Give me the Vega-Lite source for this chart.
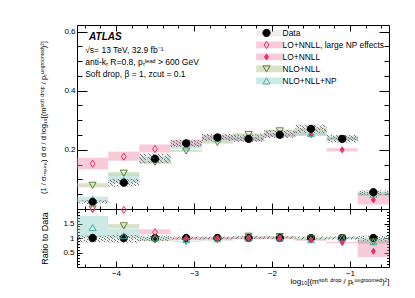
{
  "$schema": "https://vega.github.io/schema/vega-lite/v6.json",
  "padding": {"left": 38, "top": 24, "right": 5, "bottom": 5},
  "spacing": 0,
  "bounds": "flush",
  "config": {
    "view": {"stroke": "#000", "strokeWidth": 1},
    "font": "Liberation Sans",
    "axis": {"domain": false, "grid": false, "zindex": 1, "format": "~g", "labelFont": "Liberation Sans", "labelFontSize": 8, "labelColor": "#000", "tickColor": "#000", "tickWidth": 1, "titleFont": "Liberation Sans", "titleFontSize": 7.5, "titleFontWeight": "normal", "titleColor": "#000"},
    "legend": {"labelFont": "Liberation Sans", "labelFontSize": 8.4, "labelColor": "#000"}
  },
  "datasets": {
    "main": [
      {"series": "LO+NNLL, large NP effects", "xlo": -4.5, "xhi": -4.1, "xc": -4.3, "y": 0.153, "ylo": 0.134, "yhi": 0.173},
      {"series": "LO+NNLL, large NP effects", "xlo": -4.1, "xhi": -3.7, "xc": -3.9, "y": 0.177, "ylo": 0.163, "yhi": 0.194},
      {"series": "LO+NNLL, large NP effects", "xlo": -3.7, "xhi": -3.3, "xc": -3.5, "y": 0.203, "ylo": 0.191, "yhi": 0.218},
      {"series": "LO+NNLL", "xlo": -3.3, "xhi": -2.9, "xc": -3.1, "y": 0.221, "ylo": 0.213, "yhi": 0.233},
      {"series": "LO+NNLL", "xlo": -2.9, "xhi": -2.5, "xc": -2.7, "y": 0.240, "ylo": 0.232, "yhi": 0.250},
      {"series": "LO+NNLL", "xlo": -2.5, "xhi": -2.1, "xc": -2.3, "y": 0.236, "ylo": 0.230, "yhi": 0.244},
      {"series": "LO+NNLL", "xlo": -2.1, "xhi": -1.7, "xc": -1.9, "y": 0.249, "ylo": 0.243, "yhi": 0.256},
      {"series": "LO+NNLL", "xlo": -1.7, "xhi": -1.3, "xc": -1.5, "y": 0.251, "ylo": 0.247, "yhi": 0.257},
      {"series": "LO+NNLL", "xlo": -1.3, "xhi": -0.9, "xc": -1.1, "y": 0.200, "ylo": 0.194, "yhi": 0.205},
      {"series": "LO+NNLL", "xlo": -0.9, "xhi": -0.5, "xc": -0.7, "y": 0.031, "ylo": 0.015, "yhi": 0.049},
      {"series": "NLO+NLL", "xlo": -4.5, "xhi": -4.1, "xc": -4.3, "y": 0.080, "ylo": 0.073, "yhi": 0.087},
      {"series": "NLO+NLL", "xlo": -4.1, "xhi": -3.7, "xc": -3.9, "y": 0.121, "ylo": 0.113, "yhi": 0.125},
      {"series": "NLO+NLL", "xlo": -3.7, "xhi": -3.3, "xc": -3.5, "y": 0.158, "ylo": 0.153, "yhi": 0.163},
      {"series": "NLO+NLL", "xlo": -3.3, "xhi": -2.9, "xc": -3.1, "y": 0.196, "ylo": 0.193, "yhi": 0.200},
      {"series": "NLO+NLL", "xlo": -2.9, "xhi": -2.5, "xc": -2.7, "y": 0.225, "ylo": 0.221, "yhi": 0.230},
      {"series": "NLO+NLL", "xlo": -2.5, "xhi": -2.1, "xc": -2.3, "y": 0.252, "ylo": 0.246, "yhi": 0.256},
      {"series": "NLO+NLL", "xlo": -2.1, "xhi": -1.7, "xc": -1.9, "y": 0.264, "ylo": 0.258, "yhi": 0.268},
      {"series": "NLO+NLL", "xlo": -1.7, "xhi": -1.3, "xc": -1.5, "y": 0.268, "ylo": 0.262, "yhi": 0.273},
      {"series": "NLO+NLL", "xlo": -1.3, "xhi": -0.9, "xc": -1.1, "y": 0.237, "ylo": 0.232, "yhi": 0.243},
      {"series": "NLO+NLL", "xlo": -0.9, "xhi": -0.5, "xc": -0.7, "y": 0.049, "ylo": 0.045, "yhi": 0.053},
      {"series": "NLO+NLL+NP", "xlo": -4.5, "xhi": -4.1, "xc": -4.3, "y": 0.033, "ylo": 0.024, "yhi": 0.042},
      {"series": "NLO+NLL+NP", "xlo": -4.1, "xhi": -3.7, "xc": -3.9, "y": 0.096, "ylo": 0.089, "yhi": 0.117},
      {"series": "NLO+NLL+NP", "xlo": -3.7, "xhi": -3.3, "xc": -3.5, "y": 0.170, "ylo": 0.164, "yhi": 0.177},
      {"series": "NLO+NLL+NP", "xlo": -3.3, "xhi": -2.9, "xc": -3.1, "y": 0.210, "ylo": 0.204, "yhi": 0.217},
      {"series": "NLO+NLL+NP", "xlo": -2.9, "xhi": -2.5, "xc": -2.7, "y": 0.238, "ylo": 0.232, "yhi": 0.244},
      {"series": "NLO+NLL+NP", "xlo": -2.5, "xhi": -2.1, "xc": -2.3, "y": 0.238, "ylo": 0.231, "yhi": 0.245},
      {"series": "NLO+NLL+NP", "xlo": -2.1, "xhi": -1.7, "xc": -1.9, "y": 0.251, "ylo": 0.245, "yhi": 0.257},
      {"series": "NLO+NLL+NP", "xlo": -1.7, "xhi": -1.3, "xc": -1.5, "y": 0.255, "ylo": 0.249, "yhi": 0.262},
      {"series": "NLO+NLL+NP", "xlo": -1.3, "xhi": -0.9, "xc": -1.1, "y": 0.238, "ylo": 0.232, "yhi": 0.245},
      {"series": "NLO+NLL+NP", "xlo": -0.9, "xhi": -0.5, "xc": -0.7, "y": 0.050, "ylo": 0.046, "yhi": 0.058},
      {"series": "Data", "xlo": -4.5, "xhi": -4.1, "xc": -4.3, "y": 0.024, "ylo": 0.018, "yhi": 0.030},
      {"series": "Data", "xlo": -4.1, "xhi": -3.7, "xc": -3.9, "y": 0.089, "ylo": 0.076, "yhi": 0.102},
      {"series": "Data", "xlo": -3.7, "xhi": -3.3, "xc": -3.5, "y": 0.170, "ylo": 0.155, "yhi": 0.187},
      {"series": "Data", "xlo": -3.3, "xhi": -2.9, "xc": -3.1, "y": 0.222, "ylo": 0.210, "yhi": 0.234},
      {"series": "Data", "xlo": -2.9, "xhi": -2.5, "xc": -2.7, "y": 0.242, "ylo": 0.229, "yhi": 0.254},
      {"series": "Data", "xlo": -2.5, "xhi": -2.1, "xc": -2.3, "y": 0.237, "ylo": 0.227, "yhi": 0.252},
      {"series": "Data", "xlo": -2.1, "xhi": -1.7, "xc": -1.9, "y": 0.251, "ylo": 0.240, "yhi": 0.267},
      {"series": "Data", "xlo": -1.7, "xhi": -1.3, "xc": -1.5, "y": 0.271, "ylo": 0.257, "yhi": 0.285},
      {"series": "Data", "xlo": -1.3, "xhi": -0.9, "xc": -1.1, "y": 0.237, "ylo": 0.225, "yhi": 0.250},
      {"series": "Data", "xlo": -0.9, "xhi": -0.5, "xc": -0.7, "y": 0.057, "ylo": 0.047, "yhi": 0.063}
    ],
    "ratio": [
      {"series": "Data", "xlo": -4.5, "xhi": -4.1, "xc": -4.3, "r": 1, "rlo": 0.85, "rhi": 1.08},
      {"series": "Data", "xlo": -4.1, "xhi": -3.7, "xc": -3.9, "r": 1, "rlo": 0.84, "rhi": 1.10},
      {"series": "Data", "xlo": -3.7, "xhi": -3.3, "xc": -3.5, "r": 1, "rlo": 0.90, "rhi": 1.09},
      {"series": "Data", "xlo": -3.3, "xhi": -2.9, "xc": -3.1, "r": 1, "rlo": 0.95, "rhi": 1.05},
      {"series": "Data", "xlo": -2.9, "xhi": -2.5, "xc": -2.7, "r": 1, "rlo": 0.95, "rhi": 1.05},
      {"series": "Data", "xlo": -2.5, "xhi": -2.1, "xc": -2.3, "r": 1, "rlo": 0.96, "rhi": 1.06},
      {"series": "Data", "xlo": -2.1, "xhi": -1.7, "xc": -1.9, "r": 1, "rlo": 0.96, "rhi": 1.06},
      {"series": "Data", "xlo": -1.7, "xhi": -1.3, "xc": -1.5, "r": 1, "rlo": 0.95, "rhi": 1.05},
      {"series": "Data", "xlo": -1.3, "xhi": -0.9, "xc": -1.1, "r": 1, "rlo": 0.95, "rhi": 1.05},
      {"series": "Data", "xlo": -0.9, "xhi": -0.5, "xc": -0.7, "r": 1, "rlo": 0.90, "rhi": 1.08},
      {"series": "NLO+NLL", "xlo": -4.5, "xhi": -4.1, "xc": -4.3, "r": 3.3, "rlo": null, "rhi": null},
      {"series": "NLO+NLL", "xlo": -4.1, "xhi": -3.7, "xc": -3.9, "r": 1.42, "rlo": 1.33, "rhi": 1.48},
      {"series": "NLO+NLL", "xlo": -3.7, "xhi": -3.3, "xc": -3.5, "r": 0.93, "rlo": 0.90, "rhi": 0.96},
      {"series": "NLO+NLL", "xlo": -3.3, "xhi": -2.9, "xc": -3.1, "r": 0.88, "rlo": 0.87, "rhi": 0.90},
      {"series": "NLO+NLL", "xlo": -2.9, "xhi": -2.5, "xc": -2.7, "r": 0.93, "rlo": 0.91, "rhi": 0.95},
      {"series": "NLO+NLL", "xlo": -2.5, "xhi": -2.1, "xc": -2.3, "r": 1.06, "rlo": 1.04, "rhi": 1.08},
      {"series": "NLO+NLL", "xlo": -2.1, "xhi": -1.7, "xc": -1.9, "r": 1.05, "rlo": 1.03, "rhi": 1.07},
      {"series": "NLO+NLL", "xlo": -1.7, "xhi": -1.3, "xc": -1.5, "r": 0.99, "rlo": 0.97, "rhi": 1.01},
      {"series": "NLO+NLL", "xlo": -1.3, "xhi": -0.9, "xc": -1.1, "r": 1.0, "rlo": 0.98, "rhi": 1.02},
      {"series": "NLO+NLL", "xlo": -0.9, "xhi": -0.5, "xc": -0.7, "r": 0.86, "rlo": 0.80, "rhi": 0.92},
      {"series": "NLO+NLL+NP", "xlo": -4.5, "xhi": -4.1, "xc": -4.3, "r": 1.36, "rlo": 1.02, "rhi": 1.76},
      {"series": "NLO+NLL+NP", "xlo": -4.1, "xhi": -3.7, "xc": -3.9, "r": 1.08, "rlo": 1.0, "rhi": 1.32},
      {"series": "NLO+NLL+NP", "xlo": -3.7, "xhi": -3.3, "xc": -3.5, "r": 1.0, "rlo": 0.96, "rhi": 1.04},
      {"series": "NLO+NLL+NP", "xlo": -3.3, "xhi": -2.9, "xc": -3.1, "r": 0.95, "rlo": 0.92, "rhi": 0.98},
      {"series": "NLO+NLL+NP", "xlo": -2.9, "xhi": -2.5, "xc": -2.7, "r": 0.98, "rlo": 0.96, "rhi": 1.01},
      {"series": "NLO+NLL+NP", "xlo": -2.5, "xhi": -2.1, "xc": -2.3, "r": 1.0, "rlo": 0.97, "rhi": 1.03},
      {"series": "NLO+NLL+NP", "xlo": -2.1, "xhi": -1.7, "xc": -1.9, "r": 1.0, "rlo": 0.98, "rhi": 1.02},
      {"series": "NLO+NLL+NP", "xlo": -1.7, "xhi": -1.3, "xc": -1.5, "r": 0.94, "rlo": 0.92, "rhi": 0.97},
      {"series": "NLO+NLL+NP", "xlo": -1.3, "xhi": -0.9, "xc": -1.1, "r": 1.0, "rlo": 0.97, "rhi": 1.03},
      {"series": "NLO+NLL+NP", "xlo": -0.9, "xhi": -0.5, "xc": -0.7, "r": 0.87, "rlo": 0.82, "rhi": 1.0},
      {"series": "LO+NNLL, large NP effects", "xlo": -4.5, "xhi": -4.1, "xc": -4.3, "r": 6.4, "rlo": null, "rhi": null},
      {"series": "LO+NNLL, large NP effects", "xlo": -4.1, "xhi": -3.7, "xc": -3.9, "r": 1.97, "rlo": null, "rhi": null},
      {"series": "LO+NNLL, large NP effects", "xlo": -3.7, "xhi": -3.3, "xc": -3.5, "r": 1.20, "rlo": 1.13, "rhi": 1.30},
      {"series": "LO+NNLL", "xlo": -3.3, "xhi": -2.9, "xc": -3.1, "r": 0.99, "rlo": 0.96, "rhi": 1.04},
      {"series": "LO+NNLL", "xlo": -2.9, "xhi": -2.5, "xc": -2.7, "r": 0.99, "rlo": 0.96, "rhi": 1.03},
      {"series": "LO+NNLL", "xlo": -2.5, "xhi": -2.1, "xc": -2.3, "r": 1.0, "rlo": 0.97, "rhi": 1.03},
      {"series": "LO+NNLL", "xlo": -2.1, "xhi": -1.7, "xc": -1.9, "r": 0.99, "rlo": 0.97, "rhi": 1.02},
      {"series": "LO+NNLL", "xlo": -1.7, "xhi": -1.3, "xc": -1.5, "r": 0.93, "rlo": 0.91, "rhi": 0.95},
      {"series": "LO+NNLL", "xlo": -1.3, "xhi": -0.9, "xc": -1.1, "r": 0.84, "rlo": 0.82, "rhi": 0.87},
      {"series": "LO+NNLL", "xlo": -0.9, "xhi": -0.5, "xc": -0.7, "r": 0.54, "rlo": 0.34, "rhi": 0.91}
    ]
  },
  "resolve": {"scale": {"color": "independent", "shape": "independent", "fill": "independent", "stroke": "independent"}},
  "vconcat": [
    {
      "width": 312,
      "height": 184,
      "data": {"name": "main"},
      "layer": [
        {
          "mark": {"type": "rect", "strokeWidth": 0},
          "encoding": {
            "x": {"field": "xlo", "type": "quantitative", "scale": {"domain": [-4.5, -0.5], "nice": false, "zero": false},
              "axis": {"orient": "bottom", "values": [-4.4,-4.2,-4,-3.8,-3.6,-3.4,-3.2,-3,-2.8,-2.6,-2.4,-2.2,-2,-1.8,-1.6,-1.4,-1.2,-1,-0.8,-0.6], "labels": false, "title": null,
                "tickSize": {"condition": {"test": "datum.value % 1 === 0", "value": -6}, "value": -3}}},
            "x2": {"field": "xhi"},
            "y": {"field": "ylo", "type": "quantitative", "scale": {"domain": [0, 0.622], "nice": false, "zero": false},
              "axis": {"orient": "left", "values": [0.05,0.1,0.15,0.2,0.25,0.3,0.35,0.4,0.45,0.5,0.55,0.6],
                "labelExpr": "abs(datum.value * 5 - round(datum.value * 5)) < 0.001 ? datum.label : ''",
                "tickSize": {"condition": {"test": "abs(datum.value * 5 - round(datum.value * 5)) < 0.001", "value": -10}, "value": -5},
                "labelPadding": 12,
                "title": "(1 / σᵣₑₛᵤₘ) d σ / d log₁₀[(mˢᵒᶠᵗ ᵈʳᵒᵖ / pₜᵘⁿᵍʳᵒᵒᵐᵉᵈ)²]",
                "titleX": -34, "titleBaseline": "middle", "titleFontSize": 7.5}},
            "y2": {"field": "yhi"},
            "color": {"field": "series", "type": "nominal", "sort": ["Data", "LO+NNLL, large NP effects", "LO+NNLL", "NLO+NLL", "NLO+NLL+NP"],
              "scale": {"range": ["rgba(120,120,120,0.12)", "rgba(242,140,171,0.45)", "rgba(242,140,171,0.45)", "rgba(168,191,136,0.45)", "rgba(143,208,198,0.45)"]},
              "legend": {"orient": "none", "legendX": 175, "legendY": 2, "title": null, "symbolType": "M0,-3.4H26.7V3.4H0Z", "symbolSize": 4, "symbolStrokeWidth": 0, "symbolOpacity": 1, "labelOffset": 22.2, "labelFontSize": 8.4, "clipHeight": 11.9, "rowPadding": 0, "labelLimit": 200}}
          }
        },
        {
          "transform": [{"filter": "datum.series === 'Data'"}],
          "mark": {"type": "rect", "strokeWidth": 0,
            "fill": {"gradient": "linear", "x1": -0.3, "y1": 0.45, "x2": 1, "y2": 0, "stops": [
              {"offset": 0, "color": "#777"}, {"offset": 0.02, "color": "#777"}, {"offset": 0.02, "color": "rgba(255,255,255,0)"}, {"offset": 0.1, "color": "rgba(255,255,255,0)"},
              {"offset": 0.1, "color": "#777"}, {"offset": 0.12, "color": "#777"}, {"offset": 0.12, "color": "rgba(255,255,255,0)"}, {"offset": 0.2, "color": "rgba(255,255,255,0)"},
              {"offset": 0.2, "color": "#777"}, {"offset": 0.22, "color": "#777"}, {"offset": 0.22, "color": "rgba(255,255,255,0)"}, {"offset": 0.3, "color": "rgba(255,255,255,0)"},
              {"offset": 0.3, "color": "#777"}, {"offset": 0.32, "color": "#777"}, {"offset": 0.32, "color": "rgba(255,255,255,0)"}, {"offset": 0.4, "color": "rgba(255,255,255,0)"},
              {"offset": 0.4, "color": "#777"}, {"offset": 0.42, "color": "#777"}, {"offset": 0.42, "color": "rgba(255,255,255,0)"}, {"offset": 0.5, "color": "rgba(255,255,255,0)"},
              {"offset": 0.5, "color": "#777"}, {"offset": 0.52, "color": "#777"}, {"offset": 0.52, "color": "rgba(255,255,255,0)"}, {"offset": 0.6, "color": "rgba(255,255,255,0)"},
              {"offset": 0.6, "color": "#777"}, {"offset": 0.62, "color": "#777"}, {"offset": 0.62, "color": "rgba(255,255,255,0)"}, {"offset": 0.7, "color": "rgba(255,255,255,0)"},
              {"offset": 0.7, "color": "#777"}, {"offset": 0.72, "color": "#777"}, {"offset": 0.72, "color": "rgba(255,255,255,0)"}, {"offset": 0.8, "color": "rgba(255,255,255,0)"},
              {"offset": 0.8, "color": "#777"}, {"offset": 0.82, "color": "#777"}, {"offset": 0.82, "color": "rgba(255,255,255,0)"}, {"offset": 0.9, "color": "rgba(255,255,255,0)"},
              {"offset": 0.9, "color": "#777"}, {"offset": 0.92, "color": "#777"}, {"offset": 0.92, "color": "rgba(255,255,255,0)"}, {"offset": 1, "color": "rgba(255,255,255,0)"}
            ]}},
          "encoding": {
            "x": {"field": "xlo", "type": "quantitative", "axis": null},
            "x2": {"field": "xhi"},
            "y": {"field": "ylo", "type": "quantitative", "axis": null},
            "y2": {"field": "yhi"}
          }
        },
        {
          "mark": {"type": "point", "opacity": 1, "strokeWidth": 1, "size": 50},
          "encoding": {
            "x": {"field": "xc", "type": "quantitative", "axis": null},
            "y": {"field": "y", "type": "quantitative", "axis": null},
            "shape": {"field": "series", "type": "nominal",
              "scale": {"domain": ["Data", "LO+NNLL, large NP effects", "LO+NNLL", "NLO+NLL", "NLO+NLL+NP"], "range": ["M-1.03,0A1.03,1.03 0 1,0 1.03,0A1.03,1.03 0 1,0 -1.03,0Z", "M0,-1.03L0.66,0L0,1.03L-0.66,0Z", "M0,-0.85L0.55,0L0,0.85L-0.55,0Z", "triangle-down", "triangle-up"]},
              "legend": {"orient": "none", "legendX": 185, "legendY": 2, "title": null, "symbolSize": 50, "symbolStrokeWidth": 1, "symbolOpacity": 1, "labelExpr": "''", "clipHeight": 11.9, "rowPadding": 0}},
            "stroke": {"field": "series", "type": "nominal",
              "scale": {"domain": ["Data", "LO+NNLL, large NP effects", "LO+NNLL", "NLO+NLL", "NLO+NLL+NP"], "range": ["#000000", "#e8306a", "#e8306a", "#5b7d2a", "#47b0a6"]},
              "legend": {"orient": "none", "legendX": 185, "legendY": 2, "title": null, "symbolSize": 50, "symbolStrokeWidth": 1, "symbolOpacity": 1, "labelExpr": "''", "clipHeight": 11.9, "rowPadding": 0}},
            "fill": {"field": "series", "type": "nominal",
              "scale": {"domain": ["Data", "LO+NNLL, large NP effects", "LO+NNLL", "NLO+NLL", "NLO+NLL+NP"], "range": ["#000000", "rgba(255,255,255,0)", "#e8306a", "rgba(255,255,255,0)", "rgba(255,255,255,0)"]},
              "legend": {"orient": "none", "legendX": 185, "legendY": 2, "title": null, "symbolSize": 50, "symbolStrokeWidth": 1, "symbolOpacity": 1, "labelExpr": "''", "clipHeight": 11.9, "rowPadding": 0}}
          }
        },
        {
          "data": {"values": [{}]},
          "mark": {"type": "text", "align": "left", "baseline": "alphabetic", "font": "Liberation Sans", "fontSize": 10, "fontWeight": "bold", "fontStyle": "italic", "color": "#000"},
          "encoding": {
            "x": {"datum": -4.345, "type": "quantitative", "axis": null},
            "y": {"datum": 0.570, "type": "quantitative", "axis": null},
            "text": {"value": "ATLAS"}
          }
        },
        {
          "data": {"values": [{}]},
          "mark": {"type": "text", "align": "left", "baseline": "alphabetic", "font": "Liberation Sans", "fontSize": 8.5, "lineHeight": 12, "color": "#000"},
          "encoding": {
            "x": {"datum": -4.395, "type": "quantitative", "axis": null},
            "y": {"datum": 0.527, "type": "quantitative", "axis": null},
            "text": {"value": ["√s= 13 TeV, 32.9 fb⁻¹", "anti-kₜ R=0.8, pₜˡᵉᵃᵈ > 600 GeV", "Soft drop, β = 1, zcut = 0.1"]}
          }
        },
        {
          "mark": {"type": "point", "opacity": 0},
          "encoding": {
            "x": {"field": "xc", "type": "quantitative",
              "axis": {"orient": "top", "values": [-4.4,-4.2,-4,-3.8,-3.6,-3.4,-3.2,-3,-2.8,-2.6,-2.4,-2.2,-2,-1.8,-1.6,-1.4,-1.2,-1,-0.8,-0.6], "labels": false, "title": null,
                "tickSize": {"condition": {"test": "datum.value % 1 === 0", "value": -6}, "value": -3}}},
            "y": {"field": "y", "type": "quantitative",
              "axis": {"orient": "right", "values": [0.05,0.1,0.15,0.2,0.25,0.3,0.35,0.4,0.45,0.5,0.55,0.6], "labels": false, "title": null,
                "tickSize": {"condition": {"test": "abs(datum.value * 5 - round(datum.value * 5)) < 0.001", "value": -10}, "value": -5}}}
          }
        }
      ],
      "resolve": {"axis": {"x": "independent", "y": "independent"}}
    },
    {
      "width": 312,
      "height": 58,
      "data": {"name": "ratio"},
      "layer": [
        {
          "mark": {"type": "rect", "strokeWidth": 0},
          "encoding": {
            "x": {"field": "xlo", "type": "quantitative", "scale": {"domain": [-4.5, -0.5], "nice": false, "zero": false},
              "axis": {"orient": "bottom", "values": [-4.4,-4.2,-4,-3.8,-3.6,-3.4,-3.2,-3,-2.8,-2.6,-2.4,-2.2,-2,-1.8,-1.6,-1.4,-1.2,-1,-0.8,-0.6],
                "labelExpr": "datum.value % 1 === 0 ? datum.label : ''",
                "labelPadding": 8,
                "tickSize": {"condition": {"test": "datum.value % 1 === 0", "value": -6}, "value": -3},
                "title": "log₁₀[(mˢᵒᶠᵗ ᵈʳᵒᵖ / pₜᵘⁿᵍʳᵒᵒᵐᵉᵈ)²]",
                "titleX": 312, "titleY": 14, "titleAlign": "right", "titleBaseline": "middle", "titleFontSize": 8}},
            "x2": {"field": "xhi"},
            "y": {"field": "rlo", "type": "quantitative", "scale": {"domain": [0, 2], "nice": false, "zero": false, "clamp": true},
              "axis": {"orient": "left", "values": [0.1,0.2,0.3,0.4,0.5,0.6,0.7,0.8,0.9,1,1.1,1.2,1.3,1.4,1.5,1.6,1.7,1.8,1.9],
                "labelExpr": "abs(datum.value * 2 - round(datum.value * 2)) < 0.001 ? datum.label : ''",
                "tickSize": {"condition": {"test": "abs(datum.value * 2 - round(datum.value * 2)) < 0.001", "value": -5}, "value": -2.5},
                "labelPadding": 8,
                "title": "Ratio to Data", "titleX": -33, "titleBaseline": "middle", "titleFontSize": 9}},
            "y2": {"field": "rhi"},
            "color": {"field": "series", "type": "nominal",
              "scale": {"domain": ["Data", "LO+NNLL, large NP effects", "LO+NNLL", "NLO+NLL", "NLO+NLL+NP"],
                "range": ["rgba(120,120,120,0.12)", "rgba(242,140,171,0.45)", "rgba(242,140,171,0.45)", "rgba(168,191,136,0.45)", "rgba(143,208,198,0.45)"]},
              "legend": null}
          }
        },
        {
          "transform": [{"filter": "datum.series === 'Data'"}],
          "mark": {"type": "rect", "strokeWidth": 0,
            "fill": {"gradient": "linear", "x1": -0.3, "y1": 0.45, "x2": 1, "y2": 0, "stops": [
              {"offset": 0, "color": "#777"}, {"offset": 0.02, "color": "#777"}, {"offset": 0.02, "color": "rgba(255,255,255,0)"}, {"offset": 0.1, "color": "rgba(255,255,255,0)"},
              {"offset": 0.1, "color": "#777"}, {"offset": 0.12, "color": "#777"}, {"offset": 0.12, "color": "rgba(255,255,255,0)"}, {"offset": 0.2, "color": "rgba(255,255,255,0)"},
              {"offset": 0.2, "color": "#777"}, {"offset": 0.22, "color": "#777"}, {"offset": 0.22, "color": "rgba(255,255,255,0)"}, {"offset": 0.3, "color": "rgba(255,255,255,0)"},
              {"offset": 0.3, "color": "#777"}, {"offset": 0.32, "color": "#777"}, {"offset": 0.32, "color": "rgba(255,255,255,0)"}, {"offset": 0.4, "color": "rgba(255,255,255,0)"},
              {"offset": 0.4, "color": "#777"}, {"offset": 0.42, "color": "#777"}, {"offset": 0.42, "color": "rgba(255,255,255,0)"}, {"offset": 0.5, "color": "rgba(255,255,255,0)"},
              {"offset": 0.5, "color": "#777"}, {"offset": 0.52, "color": "#777"}, {"offset": 0.52, "color": "rgba(255,255,255,0)"}, {"offset": 0.6, "color": "rgba(255,255,255,0)"},
              {"offset": 0.6, "color": "#777"}, {"offset": 0.62, "color": "#777"}, {"offset": 0.62, "color": "rgba(255,255,255,0)"}, {"offset": 0.7, "color": "rgba(255,255,255,0)"},
              {"offset": 0.7, "color": "#777"}, {"offset": 0.72, "color": "#777"}, {"offset": 0.72, "color": "rgba(255,255,255,0)"}, {"offset": 0.8, "color": "rgba(255,255,255,0)"},
              {"offset": 0.8, "color": "#777"}, {"offset": 0.82, "color": "#777"}, {"offset": 0.82, "color": "rgba(255,255,255,0)"}, {"offset": 0.9, "color": "rgba(255,255,255,0)"},
              {"offset": 0.9, "color": "#777"}, {"offset": 0.92, "color": "#777"}, {"offset": 0.92, "color": "rgba(255,255,255,0)"}, {"offset": 1, "color": "rgba(255,255,255,0)"}
            ]}},
          "encoding": {
            "x": {"field": "xlo", "type": "quantitative", "axis": null},
            "x2": {"field": "xhi"},
            "y": {"field": "rlo", "type": "quantitative", "axis": null},
            "y2": {"field": "rhi"}
          }
        },
        {
          "mark": {"type": "point", "opacity": 1, "strokeWidth": 1, "size": 50},
          "encoding": {
            "x": {"field": "xc", "type": "quantitative", "axis": null},
            "y": {"field": "r", "type": "quantitative", "axis": null},
            "shape": {"field": "series", "type": "nominal",
              "scale": {"domain": ["Data", "LO+NNLL, large NP effects", "LO+NNLL", "NLO+NLL", "NLO+NLL+NP"], "range": ["M-1.03,0A1.03,1.03 0 1,0 1.03,0A1.03,1.03 0 1,0 -1.03,0Z", "M0,-1.03L0.66,0L0,1.03L-0.66,0Z", "M0,-0.85L0.55,0L0,0.85L-0.55,0Z", "triangle-down", "triangle-up"]},
              "legend": null},
            "stroke": {"field": "series", "type": "nominal",
              "scale": {"domain": ["Data", "LO+NNLL, large NP effects", "LO+NNLL", "NLO+NLL", "NLO+NLL+NP"], "range": ["#000000", "#e8306a", "#e8306a", "#5b7d2a", "#47b0a6"]},
              "legend": null},
            "fill": {"field": "series", "type": "nominal",
              "scale": {"domain": ["Data", "LO+NNLL, large NP effects", "LO+NNLL", "NLO+NLL", "NLO+NLL+NP"], "range": ["#000000", "rgba(255,255,255,0)", "#e8306a", "rgba(255,255,255,0)", "rgba(255,255,255,0)"]},
              "legend": null}
          }
        },
        {
          "mark": {"type": "point", "opacity": 0},
          "encoding": {
            "x": {"field": "xc", "type": "quantitative",
              "axis": {"orient": "top", "values": [-4.4,-4.2,-4,-3.8,-3.6,-3.4,-3.2,-3,-2.8,-2.6,-2.4,-2.2,-2,-1.8,-1.6,-1.4,-1.2,-1,-0.8,-0.6], "labels": false, "title": null,
                "tickSize": {"condition": {"test": "datum.value % 1 === 0", "value": -5}, "value": -2.5}}},
            "y": {"field": "r", "type": "quantitative",
              "axis": {"orient": "right", "values": [0.1,0.2,0.3,0.4,0.5,0.6,0.7,0.8,0.9,1,1.1,1.2,1.3,1.4,1.5,1.6,1.7,1.8,1.9], "labels": false, "title": null,
                "tickSize": {"condition": {"test": "abs(datum.value * 2 - round(datum.value * 2)) < 0.001", "value": -5}, "value": -2.5}}}
          }
        }
      ],
      "resolve": {"axis": {"x": "independent", "y": "independent"}}
    }
  ]
}
